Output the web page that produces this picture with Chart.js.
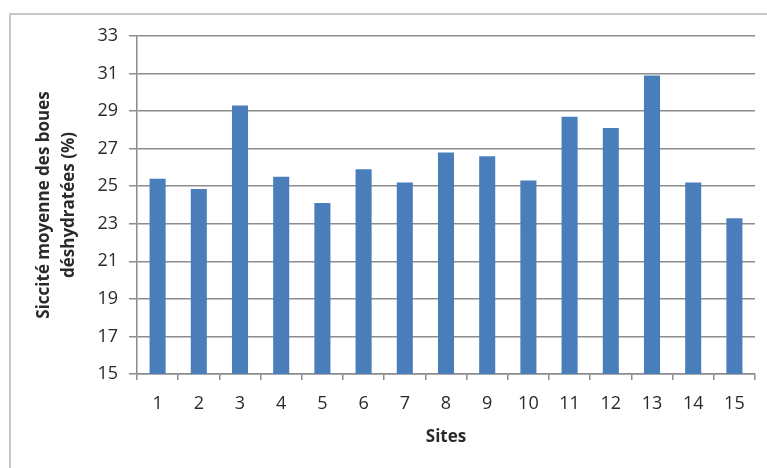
<!DOCTYPE html>
<html>
<head>
<meta charset="utf-8">
<script src="https://cdn.jsdelivr.net/npm/chart.js@4"></script>
<style>
  html, body { margin: 0; padding: 0; background: #fff; }
  canvas { display: block; }
</style>
</head>
<body>
<canvas id="chart" width="767" height="468"></canvas>
<script>
// Data
const sites = ['1', '2', '3', '4', '5', '6', '7', '8', '9', '10', '11', '12', '13', '14', '15'];
const siccite = [25.4, 24.85, 29.3, 25.5, 24.1, 25.9, 25.2, 26.8, 26.6, 25.3, 28.7, 28.1, 30.9, 25.2, 23.3];
const yMin = 15;
const yMax = 33;
const yStep = 2;

const yTitle = ['Siccité moyenne des boues', 'déshydratées (%)'];
const xTitle = 'Sites';

const gridColor = '#8c8c8c';
const textColor = '#2a2a2a';
const fontFamily = "'Open Sans', sans-serif";

// light grey frame around the chart, like the spreadsheet chart border
const frame = {
  id: 'frame',
  beforeDraw(chart) {
    const ctx = chart.ctx;
    ctx.save();
    ctx.fillStyle = '#ffffff';
    ctx.fillRect(0, 0, chart.width, chart.height);
    ctx.strokeStyle = '#c8c8c8';
    ctx.lineWidth = 2;
    ctx.strokeRect(10, 14, chart.width + 20, chart.height + 20);
    ctx.restore();
  }
};

const ctx = document.getElementById('chart').getContext('2d');
new Chart(ctx, {
  type: 'bar',
  data: {
    labels: sites,
    datasets: [{
      data: siccite,
      backgroundColor: '#4a7ebb',
      borderWidth: 0,
      categoryPercentage: 1,
      barPercentage: 0.39
    }]
  },
  options: {
    responsive: false,
    animation: false,
    layout: { padding: { left: 10, top: 36, right: 12, bottom: 0 } },
    plugins: {
      legend: { display: false },
      tooltip: { enabled: false }
    },
    scales: {
      x: {
        afterFit: (scale) => { scale.height = 94; },
        grid: {
          offset: true,
          drawOnChartArea: false,
          color: gridColor,
          lineWidth: 1.5,
          tickLength: 6
        },
        border: { color: gridColor, width: 1.5 },
        ticks: {
          color: textColor,
          padding: 13,
          font: { family: fontFamily, size: 18 }
        },
        title: {
          display: true,
          text: xTitle,
          color: textColor,
          padding: { top: 0, bottom: 21 },
          font: { family: fontFamily, size: 17, weight: 'bold' }
        }
      },
      y: {
        min: yMin,
        max: yMax,
        afterFit: (scale) => { scale.width = 127; },
        grid: {
          color: gridColor,
          lineWidth: 1.5,
          tickLength: 8
        },
        border: { color: gridColor, width: 1.5 },
        ticks: {
          stepSize: yStep,
          color: textColor,
          padding: 11,
          font: { family: fontFamily, size: 18 }
        },
        title: {
          display: true,
          text: yTitle,
          color: textColor,
          padding: { top: 22, bottom: 0 },
          font: { family: fontFamily, size: 17, weight: 'bold', lineHeight: 1.47 }
        }
      }
    }
  },
  plugins: [frame]
});
</script>
</body>
</html>
